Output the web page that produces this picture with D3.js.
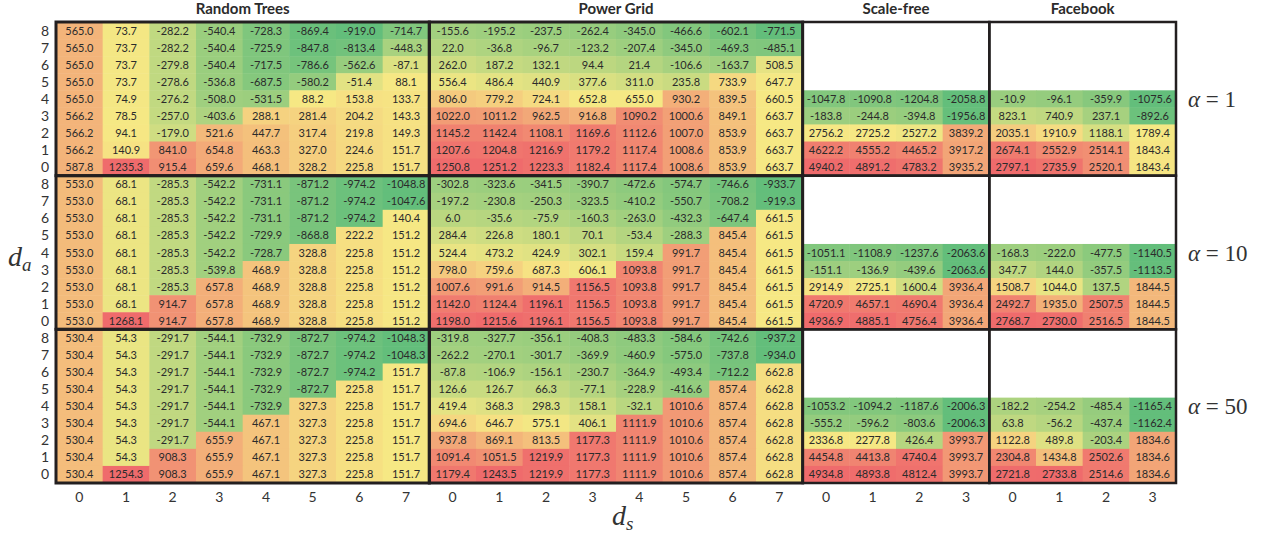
<!DOCTYPE html>
<html>
<head>
<meta charset="utf-8">
<script src="https://cdn.jsdelivr.net/npm/d3@7"></script>
<style>
  body { margin: 0; background: #fff; }
  svg { display: block; }
  .cell-text { font-family: Lato, "Noto Sans", sans-serif; font-size: 11px; fill: #2b2b2b; }
  .title { font-family: Lato, "Open Sans", sans-serif; font-size: 15px; font-weight: bold; fill: #2b2b2b; }
  .tick { font-family: Lato, sans-serif; font-size: 14px; fill: #333; }
  .math { font-family: "Liberation Serif", "DejaVu Serif", serif; fill: #333; }
</style>
</head>
<body>
<svg id="chart" width="1271" height="535"></svg>
<script>
// networks and alpha values
var groups = ["Random Trees", "Power Grid", "Scale-free", "Facebook"];
var alphas = [1, 10, 50];
var daTicks = [8, 7, 6, 5, 4, 3, 2, 1, 0];
var dsTicks = [[0, 1, 2, 3, 4, 5, 6, 7], [0, 1, 2, 3, 4, 5, 6, 7], [0, 1, 2, 3], [0, 1, 2, 3]];

// rows from d_a = 8 (top) down to 0 ; Scale-free / Facebook from d_a = 4
var rtA1 = [
    [565.0, 73.7, -282.2, -540.4, -728.3, -869.4, -919.0, -714.7],
    [565.0, 73.7, -282.2, -540.4, -725.9, -847.8, -813.4, -448.3],
    [565.0, 73.7, -279.8, -540.4, -717.5, -786.6, -562.6, -87.1],
    [565.0, 73.7, -278.6, -536.8, -687.5, -580.2, -51.4, 88.1],
    [565.0, 74.9, -276.2, -508.0, -531.5, 88.2, 153.8, 133.7],
    [566.2, 78.5, -257.0, -403.6, 288.1, 281.4, 204.2, 143.3],
    [566.2, 94.1, -179.0, 521.6, 447.7, 317.4, 219.8, 149.3],
    [566.2, 140.9, 841.0, 654.8, 463.3, 327.0, 224.6, 151.7],
    [587.8, 1235.3, 915.4, 659.6, 468.1, 328.2, 225.8, 151.7]
];
var pgA1 = [
    [-155.6, -195.2, -237.5, -262.4, -345.0, -466.6, -602.1, -771.5],
    [22.0, -36.8, -96.7, -123.2, -207.4, -345.0, -469.3, -485.1],
    [262.0, 187.2, 132.1, 94.4, 21.4, -106.6, -163.7, 508.5],
    [556.4, 486.4, 440.9, 377.6, 311.0, 235.8, 733.9, 647.7],
    [806.0, 779.2, 724.1, 652.8, 655.0, 930.2, 839.5, 660.5],
    [1022.0, 1011.2, 962.5, 916.8, 1090.2, 1000.6, 849.1, 663.7],
    [1145.2, 1142.4, 1108.1, 1169.6, 1112.6, 1007.0, 853.9, 663.7],
    [1207.6, 1204.8, 1216.9, 1179.2, 1117.4, 1008.6, 853.9, 663.7],
    [1250.8, 1251.2, 1223.3, 1182.4, 1117.4, 1008.6, 853.9, 663.7]
];
var sfA1 = [
    [-1047.8, -1090.8, -1204.8, -2058.8],
    [-183.8, -244.8, -394.8, -1956.8],
    [2756.2, 2725.2, 2527.2, 3839.2],
    [4622.2, 4555.2, 4465.2, 3917.2],
    [4940.2, 4891.2, 4783.2, 3935.2]
];
var fbA1 = [
    [-10.9, -96.1, -359.9, -1075.6],
    [823.1, 740.9, 237.1, -892.6],
    [2035.1, 1910.9, 1188.1, 1789.4],
    [2674.1, 2552.9, 2514.1, 1843.4],
    [2797.1, 2735.9, 2520.1, 1843.4]
];
var rtA10 = [
    [553.0, 68.1, -285.3, -542.2, -731.1, -871.2, -974.2, -1048.8],
    [553.0, 68.1, -285.3, -542.2, -731.1, -871.2, -974.2, -1047.6],
    [553.0, 68.1, -285.3, -542.2, -731.1, -871.2, -974.2, 140.4],
    [553.0, 68.1, -285.3, -542.2, -729.9, -868.8, 222.2, 151.2],
    [553.0, 68.1, -285.3, -542.2, -728.7, 328.8, 225.8, 151.2],
    [553.0, 68.1, -285.3, -539.8, 468.9, 328.8, 225.8, 151.2],
    [553.0, 68.1, -285.3, 657.8, 468.9, 328.8, 225.8, 151.2],
    [553.0, 68.1, 914.7, 657.8, 468.9, 328.8, 225.8, 151.2],
    [553.0, 1268.1, 914.7, 657.8, 468.9, 328.8, 225.8, 151.2]
];
var pgA10 = [
    [-302.8, -323.6, -341.5, -390.7, -472.6, -574.7, -746.6, -933.7],
    [-197.2, -230.8, -250.3, -323.5, -410.2, -550.7, -708.2, -919.3],
    [6.0, -35.6, -75.9, -160.3, -263.0, -432.3, -647.4, 661.5],
    [284.4, 226.8, 180.1, 70.1, -53.4, -288.3, 845.4, 661.5],
    [524.4, 473.2, 424.9, 302.1, 159.4, 991.7, 845.4, 661.5],
    [798.0, 759.6, 687.3, 606.1, 1093.8, 991.7, 845.4, 661.5],
    [1007.6, 991.6, 914.5, 1156.5, 1093.8, 991.7, 845.4, 661.5],
    [1142.0, 1124.4, 1196.1, 1156.5, 1093.8, 991.7, 845.4, 661.5],
    [1198.0, 1215.6, 1196.1, 1156.5, 1093.8, 991.7, 845.4, 661.5]
];
var sfA10 = [
    [-1051.1, -1108.9, -1237.6, -2063.6],
    [-151.1, -136.9, -439.6, -2063.6],
    [2914.9, 2725.1, 1600.4, 3936.4],
    [4720.9, 4657.1, 4690.4, 3936.4],
    [4936.9, 4885.1, 4756.4, 3936.4]
];
var fbA10 = [
    [-168.3, -222.0, -477.5, -1140.5],
    [347.7, 144.0, -357.5, -1113.5],
    [1508.7, 1044.0, 137.5, 1844.5],
    [2492.7, 1935.0, 2507.5, 1844.5],
    [2768.7, 2730.0, 2516.5, 1844.5]
];
var rtA50 = [
    [530.4, 54.3, -291.7, -544.1, -732.9, -872.7, -974.2, -1048.3],
    [530.4, 54.3, -291.7, -544.1, -732.9, -872.7, -974.2, -1048.3],
    [530.4, 54.3, -291.7, -544.1, -732.9, -872.7, -974.2, 151.7],
    [530.4, 54.3, -291.7, -544.1, -732.9, -872.7, 225.8, 151.7],
    [530.4, 54.3, -291.7, -544.1, -732.9, 327.3, 225.8, 151.7],
    [530.4, 54.3, -291.7, -544.1, 467.1, 327.3, 225.8, 151.7],
    [530.4, 54.3, -291.7, 655.9, 467.1, 327.3, 225.8, 151.7],
    [530.4, 54.3, 908.3, 655.9, 467.1, 327.3, 225.8, 151.7],
    [530.4, 1254.3, 908.3, 655.9, 467.1, 327.3, 225.8, 151.7]
];
var pgA50 = [
    [-319.8, -327.7, -356.1, -408.3, -483.3, -584.6, -742.6, -937.2],
    [-262.2, -270.1, -301.7, -369.9, -460.9, -575.0, -737.8, -934.0],
    [-87.8, -106.9, -156.1, -230.7, -364.9, -493.4, -712.2, 662.8],
    [126.6, 126.7, 66.3, -77.1, -228.9, -416.6, 857.4, 662.8],
    [419.4, 368.3, 298.3, 158.1, -32.1, 1010.6, 857.4, 662.8],
    [694.6, 646.7, 575.1, 406.1, 1111.9, 1010.6, 857.4, 662.8],
    [937.8, 869.1, 813.5, 1177.3, 1111.9, 1010.6, 857.4, 662.8],
    [1091.4, 1051.5, 1219.9, 1177.3, 1111.9, 1010.6, 857.4, 662.8],
    [1179.4, 1243.5, 1219.9, 1177.3, 1111.9, 1010.6, 857.4, 662.8]
];
var sfA50 = [
    [-1053.2, -1094.2, -1187.6, -2006.3],
    [-555.2, -596.2, -803.6, -2006.3],
    [2336.8, 2277.8, 426.4, 3993.7],
    [4454.8, 4413.8, 4740.4, 3993.7],
    [4934.8, 4893.8, 4812.4, 3993.7]
];
var fbA50 = [
    [-182.2, -254.2, -485.4, -1165.4],
    [63.8, -56.2, -437.4, -1162.4],
    [1122.8, 489.8, -203.4, 1834.6],
    [2304.8, 1434.8, 2502.6, 1834.6],
    [2721.8, 2733.8, 2514.6, 1834.6]
];

var panels = [
    [rtA1, pgA1, sfA1, fbA1],
    [rtA10, pgA10, sfA10, fbA10],
    [rtA50, pgA50, sfA50, fbA50]
];

var svg = d3.select("#chart");

// one band per column over all networks, one band per row over all alphas
var colKeys = [];
dsTicks.forEach(function (t, g) {
    t.forEach(function (d) { colKeys.push(g + "-" + d); });
});
var x = d3.scaleBand().domain(colKeys).range([56, 1176]);
var y = d3.scaleBand().domain(d3.range(alphas.length * daTicks.length)).range([22, 483]);

function rowIndex(a, da) {
    return a * daTicks.length + (8 - da);
}

panels.forEach(function (row, a) {
    row.forEach(function (vals, g) {
        var nRows = vals.length;
        var flat = d3.merge(vals);
        var color = d3.scaleLinear()
            .domain([d3.min(flat), d3.median(flat), d3.max(flat)])
            .range(["#63BE7B", "#F6E884", "#EF6B6C"]);

        var cells = [];
        vals.forEach(function (r, i) {
            var da = nRows - 1 - i;
            r.forEach(function (v, j) {
                cells.push({g: g, a: a, da: da, ds: j, v: v});
            });
        });

        var panel = svg.append("g");
        panel.selectAll("rect")
            .data(cells)
            .enter()
            .append("rect")
            .attr("x", function (d) { return x(d.g + "-" + d.ds); })
            .attr("y", function (d) { return y(rowIndex(d.a, d.da)); })
            .attr("width", x.bandwidth() + 0.5)
            .attr("height", y.bandwidth() + 0.5)
            .attr("fill", function (d) { return color(d.v); });

        panel.selectAll("text")
            .data(cells)
            .enter()
            .append("text")
            .classed("cell-text", true)
            .attr("x", function (d) { return x(d.g + "-" + d.ds) + x.bandwidth() / 2; })
            .attr("y", function (d) { return y(rowIndex(d.a, d.da)) + y.bandwidth() / 2 + 4; })
            .attr("text-anchor", "middle")
            .text(function (d) { return d.v.toFixed(1); });
    });
});

// borders round each network / alpha block
alphas.forEach(function (al, a) {
    dsTicks.forEach(function (t, g) {
        var x0 = x(g + "-0");
        var x1 = x(g + "-" + (t.length - 1)) + x.bandwidth();
        var y0 = y(rowIndex(a, 8));
        var y1 = y(rowIndex(a, 0)) + y.bandwidth();
        svg.append("rect")
            .attr("x", x0)
            .attr("y", y0)
            .attr("width", x1 - x0)
            .attr("height", y1 - y0)
            .attr("fill", "none")
            .attr("stroke", "#231F20")
            .attr("stroke-width", g >= 2 ? 2.5 : 3);
    });

    // alpha label
    var yc = (y(rowIndex(a, 8)) + y(rowIndex(a, 0)) + y.bandwidth()) / 2;
    var lab = svg.append("text")
        .classed("math", true)
        .attr("x", 1188)
        .attr("y", yc + 8)
        .style("font-size", "23px");
    lab.append("tspan").style("font-style", "italic").text("\u03b1");
    lab.append("tspan").text(" = " + al);

    // d_a ticks
    svg.selectAll(null)
        .data(daTicks)
        .enter()
        .append("text")
        .classed("tick", true)
        .attr("x", 49)
        .attr("y", function (d) { return y(rowIndex(a, d)) + y.bandwidth() / 2 + 5; })
        .attr("text-anchor", "end")
        .text(function (d) { return d; });
});

// network titles
groups.forEach(function (name, g) {
    var t = dsTicks[g];
    var xc = (x(g + "-0") + x(g + "-" + (t.length - 1)) + x.bandwidth()) / 2;
    svg.append("text")
        .classed("title", true)
        .attr("x", xc)
        .attr("y", 14)
        .attr("text-anchor", "middle")
        .text(name);
});

// d_s ticks
svg.selectAll(null)
    .data(colKeys)
    .enter()
    .append("text")
    .classed("tick", true)
    .attr("x", function (d) { return x(d) + x.bandwidth() / 2; })
    .attr("y", 502)
    .attr("text-anchor", "middle")
    .text(function (d) { return d.split("-")[1]; });

// axis titles
var dsLab = svg.append("text")
    .classed("math", true)
    .attr("x", 612)
    .attr("y", 525)
    .style("font-size", "28px");
dsLab.append("tspan").style("font-style", "italic").text("d");
dsLab.append("tspan").style("font-style", "italic").style("font-size", "19px").attr("dy", 5).text("s");

var daLab = svg.append("text")
    .classed("math", true)
    .attr("x", 8)
    .attr("y", 266)
    .style("font-size", "28px");
daLab.append("tspan").style("font-style", "italic").text("d");
daLab.append("tspan").style("font-style", "italic").style("font-size", "19px").attr("dy", 5).text("a");
</script>
</body>
</html>
